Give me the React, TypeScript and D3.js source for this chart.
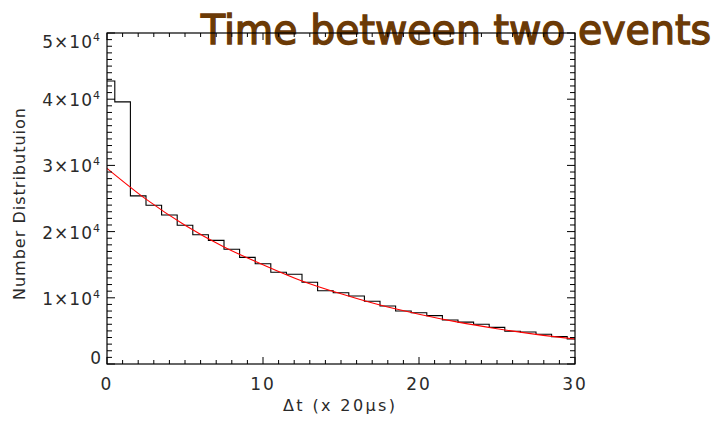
import React from "react";
import * as d3 from "d3";

// Histogram bin centres (Δt, units of 20 µs) and counts
const binCenters = [0,1,2,3,4,5,6,7,8,9,10,11,12,13,14,15,16,17,18,19,20,21,22,23,24,25,26,27,28,29,30];
const counts = [42750,39600,25400,23970,22500,20950,19530,18680,17330,16110,15150,13850,13550,12340,11070,10770,10270,9470,8760,8000,7750,7300,6650,6330,6000,5540,4940,4830,4490,4130,3780];

// Exponential fit curve
const fitX = [0,2.5,5,7.5,10,12.5,15,17.5,20,22.5,25,27.5,30];
const fitY = [29560,24900,20950,17670,15000,12550,10600,8900,7520,6320,5330,4480,3780];

const xMajor = [0,10,20,30];
const xMinor = d3.range(0,31,1);
const yMajor = [0,10000,20000,30000,40000,50000];
const yMajorLabels = ["0","1","2","3","4","5"];
const yMinor = d3.range(0,50001,1000);

const title = "Time between two events";
const xTitle = "Δt (x 20μs)";
const yTitle = "Number Distributuion";

export default function App() {
  const W = 718, H = 422;
  const L = 107, R = 575, T = 33, B = 364;
  const x = d3.scaleLinear().domain([0, 30]).range([L, R]);
  const y = d3.scaleLinear().domain([0, 50000]).range([B, T]);

  // IDL psym=10 style step histogram
  const pts: [number, number][] = [];
  binCenters.forEach((c, i) => {
    const x0 = Math.max(0, c - 0.5);
    const x1 = Math.min(30, c + 0.5);
    pts.push([x(x0), y(counts[i])]);
    pts.push([x(x1), y(counts[i])]);
  });
  const histPath = d3.line()(pts) || "";
  const fitPath =
    d3.line<number>().x((_, i) => x(fitX[i])).y((d) => y(d)).curve(d3.curveMonotoneX)(fitY) || "";

  const txt = "#2a2a2a";
  const font = "'DejaVu Sans', sans-serif";

  return (
    <svg width={W} height={H} style={{ position: "absolute", left: 0, top: 0, background: "#fff" }}>
      {/* title (drawn beneath the frame, as in the reference) */}
      <text
        x={201}
        y={44}
        fontFamily="'Comic Sans MS', 'DejaVu Sans', sans-serif"
        fontSize={41}
        fill="#6b3a06"
        stroke="#6b3a06"
        strokeWidth={1.4}
        textLength={510}
        lengthAdjust="spacingAndGlyphs"
      >
        {title}
      </text>

      {/* histogram */}
      <path d={histPath} fill="none" stroke="#000" strokeWidth={1.1} />
      {/* fit */}
      <path d={fitPath} fill="none" stroke="#ff0000" strokeWidth={1.1} />

      {/* frame */}
      <rect x={L} y={T} width={R - L} height={B - T} fill="none" stroke="#000" strokeWidth={1.2} />

      {/* x ticks bottom & top */}
      {xMinor.map((v) => {
        const isMajor = xMajor.includes(v);
        const len = isMajor ? 7 : 4;
        return (
          <g key={"xt" + v}>
            <line x1={x(v)} x2={x(v)} y1={B} y2={B - len} stroke="#000" strokeWidth={1} />
            <line x1={x(v)} x2={x(v)} y1={T} y2={T + len} stroke="#000" strokeWidth={1} />
          </g>
        );
      })}
      {/* y ticks left & right */}
      {yMinor.map((v) => {
        const isMajor = v % 10000 === 0;
        const len = isMajor ? 8 : 5;
        return (
          <g key={"yt" + v}>
            <line x1={L} x2={L + len} y1={y(v)} y2={y(v)} stroke="#000" strokeWidth={1} />
            <line x1={R} x2={R - len} y1={y(v)} y2={y(v)} stroke="#000" strokeWidth={1} />
          </g>
        );
      })}

      {/* x tick labels */}
      {xMajor.map((v) => (
        <text key={"xl" + v} x={x(v)} y={390} textAnchor="middle" fontFamily={font} fontSize={17} fill={txt} letterSpacing={2}>
          {v}
        </text>
      ))}
      {/* y tick labels */}
      {yMajor.map((v, i) => {
        let cy = y(v);
        if (v === 50000) cy = 41;
        if (v === 0) cy = 358;
        if (v === 0)
          return (
            <text key={"yl" + v} x={101} y={cy + 6} textAnchor="end" fontFamily={font} fontSize={17} fill={txt}>
              0
            </text>
          );
        return (
          <text key={"yl" + v} x={101} y={cy + 7} textAnchor="end" fontFamily={font} fontSize={17} fill={txt} letterSpacing={1}>
            {yMajorLabels[i]}×10
            <tspan dy={-7} fontSize={11}>4</tspan>
          </text>
        );
      })}

      {/* axis titles */}
      <text x={283} y={411} fontFamily={font} fontSize={16} fill={txt} textLength={112} lengthAdjust="spacing">
        {xTitle}
      </text>
      <text
        transform={`translate(25,300) rotate(-90)`}
        fontFamily={font}
        fontSize={16}
        fill={txt}
        textLength={192}
        lengthAdjust="spacing"
      >
        {yTitle}
      </text>
    </svg>
  );
}
